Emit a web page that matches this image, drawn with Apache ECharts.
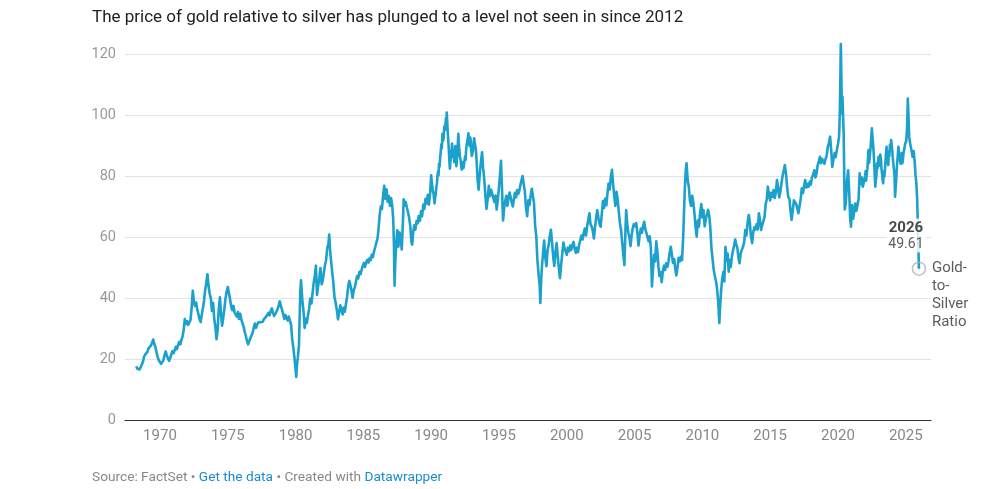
<!DOCTYPE html>
<html>
<head>
<meta charset="utf-8">
<script src="https://cdn.jsdelivr.net/npm/echarts@6/dist/echarts.min.js"></script>
<style>
html,body{margin:0;padding:0;background:#fff;}
#chart{width:992px;height:489px;}
</style>
</head>
<body>
<div id="chart"></div>
<script>
// ---- data (decimal year, gold-to-silver ratio) ----
const ratio1960s = [[1968.25,17.6],[1968.33,16.8],[1968.42,16.3],[1968.5,16.6],[1968.58,17.4],[1968.67,18.3],[1968.75,19.2],[1968.83,20.8],[1968.92,21.5],
[1969.0,20.9],[1969.08,22.4],[1969.17,23.6],[1969.25,23.0],[1969.33,24.4],[1969.42,25.3],[1969.5,26.4],[1969.58,24.9],[1969.67,23.8],[1969.75,22.1],[1969.83,20.6],[1969.92,19.5]];

const ratio1970s = [[1970.0,18.9],[1970.08,18.4],[1970.17,18.7],[1970.25,19.6],[1970.33,21.1],[1970.42,22.5],[1970.5,21.3],[1970.58,20.2],[1970.67,19.4],[1970.75,20.3],[1970.83,21.4],[1970.92,22.6],
[1971.0,21.9],[1971.08,22.8],[1971.17,24.0],[1971.25,23.2],[1971.33,24.5],[1971.42,25.6],[1971.5,24.8],[1971.58,26.2],[1971.67,27.5],[1971.75,29.6],[1971.83,33.1],[1971.92,31.6],
[1972.0,32.4],[1972.08,31.2],[1972.17,30.6],[1972.25,32.8],[1972.33,36.5],[1972.42,42.4],[1972.5,38.9],[1972.58,37.4],[1972.67,38.5],[1972.75,36.2],[1972.83,34.8],[1972.92,33.0],
[1973.0,32.1],[1973.08,34.5],[1973.17,36.8],[1973.25,39.2],[1973.33,42.5],[1973.42,45.1],[1973.5,47.8],[1973.58,44.0],[1973.67,41.3],[1973.75,39.9],[1973.83,35.8],[1973.92,38.4],
[1974.0,33.2],[1974.08,30.8],[1974.17,26.5],[1974.25,29.4],[1974.33,35.9],[1974.42,40.2],[1974.5,34.8],[1974.58,30.9],[1974.67,33.7],[1974.75,36.5],[1974.83,39.8],[1974.92,42.2],
[1975.0,43.6],[1975.08,41.8],[1975.17,39.5],[1975.25,37.2],[1975.33,36.0],[1975.42,37.4],[1975.5,35.3],[1975.58,34.6],[1975.67,33.9],[1975.75,35.4],[1975.83,33.1],[1975.92,34.8],
[1976.0,32.9],[1976.08,31.8],[1976.17,30.5],[1976.25,28.9],[1976.33,27.6],[1976.42,25.8],[1976.5,24.8],[1976.58,25.3],[1976.67,26.9],[1976.75,27.4],[1976.83,28.6],[1976.92,30.4],
[1977.0,31.6],[1977.08,30.2],[1977.17,31.3],[1977.25,32.0],[1977.33,31.4],[1977.42,32.1],[1977.5,32.6],[1977.58,32.2],[1977.67,33.1],[1977.75,33.4],[1977.83,33.9],[1977.92,34.4],
[1978.0,35.1],[1978.08,34.3],[1978.17,35.8],[1978.25,36.6],[1978.33,35.2],[1978.42,34.1],[1978.5,34.6],[1978.58,35.4],[1978.67,36.4],[1978.75,37.4],[1978.83,38.9],[1978.92,37.3],
[1979.0,36.2],[1979.08,34.9],[1979.17,33.1],[1979.25,34.4],[1979.33,33.5],[1979.42,32.6],[1979.5,33.9],[1979.58,34.1],[1979.67,31.2],[1979.75,26.5],[1979.83,23.8],[1979.92,20.4]];

const ratio1980s = [[1980.0,16.5],[1980.05,14.1],[1980.1,18.0],[1980.17,20.6],[1980.25,24.5],[1980.3,33.8],[1980.35,42.3],[1980.4,45.8],[1980.5,39.2],[1980.58,35.9],[1980.67,30.2],[1980.75,33.2],[1980.83,31.8],[1980.92,34.5],
[1981.0,36.5],[1981.08,39.8],[1981.17,38.2],[1981.25,41.5],[1981.33,44.8],[1981.42,47.5],[1981.5,50.6],[1981.58,41.0],[1981.67,44.2],[1981.75,46.5],[1981.83,49.8],[1981.92,44.5],
[1982.0,45.6],[1982.08,48.2],[1982.17,50.8],[1982.25,52.4],[1982.33,56.2],[1982.42,57.8],[1982.48,60.8],[1982.55,55.4],[1982.62,52.0],[1982.7,48.6],[1982.78,45.2],[1982.87,40.2],[1982.95,38.6],
[1983.05,35.8],[1983.13,33.0],[1983.22,35.4],[1983.3,37.6],[1983.38,36.2],[1983.47,34.6],[1983.55,36.9],[1983.63,35.5],[1983.72,38.2],[1983.8,40.5],[1983.88,43.8],[1983.96,45.6],
[1984.04,44.2],[1984.12,42.5],[1984.2,40.1],[1984.29,42.6],[1984.37,43.5],[1984.46,45.6],[1984.54,47.2],[1984.62,46.4],[1984.71,48.6],[1984.79,47.8],[1984.88,49.4],[1984.96,50.6],
[1985.04,51.5],[1985.12,50.2],[1985.21,51.8],[1985.29,52.5],[1985.37,51.6],[1985.46,53.1],[1985.54,52.4],[1985.62,54.2],[1985.71,53.5],[1985.79,55.4],[1985.88,56.8],[1985.96,58.2],
[1986.04,59.4],[1986.12,62.8],[1986.21,67.5],[1986.29,70.1],[1986.37,69.2],[1986.46,73.8],[1986.54,76.8],[1986.62,72.5],[1986.71,75.6],[1986.79,71.6],[1986.88,73.4],[1986.96,70.2],
[1987.04,72.8],[1987.12,70.5],[1987.2,66.0],[1987.25,58.2],[1987.3,44.0],[1987.35,51.5],[1987.42,57.6],[1987.5,62.2],[1987.58,56.8],[1987.67,61.5],[1987.75,59.4],[1987.83,55.9],[1987.92,65.5],[1987.97,72.4],
[1988.04,70.3],[1988.12,71.5],[1988.21,69.6],[1988.29,68.2],[1988.37,66.4],[1988.46,63.5],[1988.54,58.4],[1988.6,57.5],[1988.67,61.5],[1988.75,63.8],[1988.83,62.4],[1988.92,65.2],
[1989.0,64.5],[1989.08,66.9],[1989.17,65.3],[1989.25,68.4],[1989.33,66.8],[1989.42,70.6],[1989.5,69.2],[1989.58,72.5],[1989.67,71.0],[1989.75,73.8],[1989.83,70.6],[1989.92,74.2]];

const ratio1990s = [[1990.0,80.2],[1990.04,78.1],[1990.08,77.6],[1990.12,75.2],[1990.17,74.4],[1990.21,72.6],[1990.25,71.0],[1990.29,72.9],[1990.33,73.8],[1990.38,76.2],[1990.42,77.5],[1990.46,79.8],[1990.5,81.4],[1990.54,80.2],[1990.58,84.0],[1990.62,83.1],[1990.67,86.5],[1990.71,88.2],[1990.75,90.4],[1990.79,89.1],[1990.83,93.8],[1990.88,91.6],[1990.92,92.4],[1990.96,95.8],
[1991.0,96.5],[1991.04,95.2],[1991.08,98.8],[1991.12,97.6],[1991.15,100.8],[1991.19,97.0],[1991.22,94.5],[1991.26,91.8],[1991.3,88.6],[1991.34,85.2],[1991.38,82.4],[1991.42,84.8],[1991.46,86.5],[1991.5,88.2],[1991.54,90.6],[1991.58,88.0],[1991.62,86.2],[1991.66,87.8],[1991.7,84.5],[1991.74,86.9],[1991.78,89.8],[1991.82,86.4],[1991.86,83.2],[1991.9,85.6],[1991.94,87.5],[1991.97,91.2],
[1992.0,93.8],[1992.04,90.6],[1992.08,88.4],[1992.12,86.5],[1992.17,85.2],[1992.21,83.4],[1992.25,82.1],[1992.29,83.9],[1992.33,84.6],[1992.38,82.6],[1992.42,83.2],[1992.46,85.1],[1992.5,86.4],[1992.54,85.3],[1992.58,88.9],[1992.62,90.4],[1992.67,91.6],[1992.71,92.8],[1992.75,94.0],[1992.79,91.4],[1992.83,89.8],[1992.88,92.6],[1992.92,91.5],[1992.96,88.4],
[1993.0,86.6],[1993.04,87.5],[1993.08,88.2],[1993.12,90.1],[1993.17,92.4],[1993.21,91.0],[1993.25,90.6],[1993.29,88.9],[1993.33,86.5],[1993.38,82.4],[1993.42,78.8],[1993.46,77.2],[1993.5,75.5],[1993.54,78.2],[1993.58,80.4],[1993.62,82.6],[1993.67,84.6],[1993.71,86.2],[1993.75,87.8],[1993.79,85.4],[1993.83,82.5],[1993.88,80.6],[1993.92,78.4],[1993.96,75.9],
[1994.0,73.5],[1994.08,69.2],[1994.17,72.6],[1994.25,76.8],[1994.33,73.4],[1994.42,75.5],[1994.5,74.2],[1994.58,72.8],[1994.67,71.4],[1994.75,73.6],[1994.83,69.0],[1994.92,72.5],
[1995.0,76.4],[1995.08,80.6],[1995.15,85.0],[1995.22,76.2],[1995.3,65.4],[1995.38,69.5],[1995.46,71.8],[1995.54,73.5],[1995.62,70.2],[1995.7,72.8],[1995.78,74.6],[1995.86,73.1],[1995.94,71.2],
[1996.02,70.0],[1996.1,72.4],[1996.18,74.5],[1996.26,73.0],[1996.34,75.4],[1996.42,74.1],[1996.5,75.2],[1996.58,77.0],[1996.66,78.6],[1996.74,80.0],[1996.82,77.5],[1996.9,75.2],
[1997.0,69.4],[1997.08,66.8],[1997.17,72.0],[1997.25,70.5],[1997.33,73.4],[1997.42,75.8],[1997.5,76.4],[1997.58,71.2],[1997.67,63.5],[1997.75,60.4],[1997.83,52.6],[1997.92,47.8],
[1998.0,44.2],[1998.05,38.4],[1998.1,44.8],[1998.17,50.5],[1998.25,54.6],[1998.33,58.8],[1998.42,53.2],[1998.5,50.4],[1998.58,55.6],[1998.67,57.5],[1998.75,60.4],[1998.83,62.4],[1998.92,57.8],
[1999.0,53.4],[1999.08,50.5],[1999.17,55.2],[1999.25,58.0],[1999.33,53.8],[1999.42,49.5],[1999.5,46.5],[1999.58,50.8],[1999.67,54.6],[1999.75,58.2],[1999.83,56.4],[1999.92,55.2]];

const ratio2000s = [[2000.0,54.2],[2000.08,56.5],[2000.17,55.3],[2000.25,57.2],[2000.33,55.8],[2000.42,57.5],[2000.5,58.4],[2000.58,56.2],[2000.67,54.8],[2000.75,56.5],[2000.83,55.1],[2000.92,57.6],
[2001.0,58.2],[2001.08,60.5],[2001.17,59.2],[2001.25,61.4],[2001.33,62.8],[2001.42,60.5],[2001.5,63.5],[2001.58,65.6],[2001.67,67.8],[2001.75,64.2],[2001.83,63.5],[2001.92,62.0],
[2002.0,59.5],[2002.08,63.2],[2002.17,66.5],[2002.25,68.8],[2002.33,66.4],[2002.42,64.2],[2002.5,63.4],[2002.58,67.5],[2002.67,71.8],[2002.75,69.5],[2002.83,72.6],[2002.92,70.4],
[2003.0,74.2],[2003.08,77.5],[2003.17,75.6],[2003.25,79.8],[2003.33,82.0],[2003.42,77.2],[2003.5,73.6],[2003.58,70.2],[2003.67,74.8],[2003.75,72.4],[2003.83,68.5],[2003.92,64.6],
[2004.0,62.4],[2004.08,58.6],[2004.17,54.2],[2004.25,50.8],[2004.33,62.5],[2004.38,68.8],[2004.46,64.2],[2004.54,61.5],[2004.62,59.8],[2004.7,57.0],[2004.78,60.4],[2004.86,62.8],[2004.94,64.2],
[2005.04,63.5],[2005.12,64.6],[2005.21,61.2],[2005.29,57.2],[2005.37,60.5],[2005.46,62.8],[2005.54,61.4],[2005.62,63.4],[2005.71,65.0],[2005.79,62.6],[2005.88,61.2],[2005.96,59.8],
[2006.04,58.6],[2006.12,60.2],[2006.2,56.4],[2006.28,43.8],[2006.36,49.5],[2006.44,54.2],[2006.52,52.0],[2006.6,58.6],[2006.68,55.4],[2006.76,50.2],[2006.84,47.2],[2006.92,48.5],
[2007.0,45.2],[2007.08,48.6],[2007.17,50.6],[2007.25,49.2],[2007.33,51.4],[2007.42,50.2],[2007.5,52.0],[2007.58,54.6],[2007.67,56.8],[2007.75,54.2],[2007.83,51.5],[2007.92,52.8],
[2008.0,49.6],[2008.08,47.4],[2008.17,50.2],[2008.25,53.2],[2008.33,52.0],[2008.42,53.6],[2008.5,52.4],[2008.58,59.5],[2008.63,66.2],[2008.7,75.4],[2008.77,81.6],[2008.83,84.2],[2008.92,78.5],
[2009.0,76.4],[2009.08,72.0],[2009.17,70.2],[2009.25,73.5],[2009.33,71.4],[2009.42,67.5],[2009.5,63.2],[2009.58,60.1],[2009.67,65.5],[2009.75,63.4],[2009.83,67.8],[2009.92,70.8]];

const ratio2010s = [[2010.0,66.4],[2010.08,68.8],[2010.17,63.5],[2010.25,65.8],[2010.33,66.4],[2010.42,68.9],[2010.5,67.2],[2010.58,63.4],[2010.67,56.2],[2010.75,52.8],[2010.83,49.4],[2010.92,47.2],
[2011.0,45.6],[2011.08,43.2],[2011.17,38.6],[2011.25,31.8],[2011.3,36.5],[2011.38,42.4],[2011.46,46.2],[2011.54,48.5],[2011.62,45.4],[2011.7,56.8],[2011.78,52.2],[2011.86,54.6],[2011.94,48.6],
[2012.02,52.5],[2012.1,50.2],[2012.18,53.8],[2012.26,55.6],[2012.34,57.2],[2012.42,59.2],[2012.5,57.5],[2012.58,56.4],[2012.66,53.2],[2012.74,51.4],[2012.82,54.5],[2012.9,55.7],
[2013.0,56.8],[2013.08,58.4],[2013.17,62.3],[2013.25,60.5],[2013.33,64.5],[2013.42,67.2],[2013.5,64.8],[2013.58,60.2],[2013.67,58.0],[2013.75,61.5],[2013.83,63.2],[2013.92,62.5],
[2014.0,64.2],[2014.08,62.5],[2014.17,67.8],[2014.25,65.4],[2014.33,62.3],[2014.42,64.0],[2014.5,63.5],[2014.58,66.5],[2014.67,70.8],[2014.75,72.4],[2014.83,76.5],[2014.92,73.5],
[2015.0,72.0],[2015.08,74.5],[2015.17,73.2],[2015.25,75.4],[2015.33,72.8],[2015.42,74.6],[2015.5,78.7],[2015.58,76.4],[2015.67,73.0],[2015.75,74.8],[2015.83,77.5],[2015.92,80.2],
[2016.0,81.6],[2016.08,83.6],[2016.17,80.5],[2016.25,76.5],[2016.33,73.2],[2016.42,72.4],[2016.5,68.6],[2016.58,65.6],[2016.67,68.8],[2016.75,72.0],[2016.83,71.4],[2016.92,70.8],
[2017.0,69.4],[2017.08,67.8],[2017.17,70.2],[2017.25,72.5],[2017.33,76.0],[2017.42,74.4],[2017.5,76.8],[2017.58,78.7],[2017.67,76.2],[2017.75,77.4],[2017.83,76.5],[2017.92,78.2],
[2018.0,77.2],[2018.08,79.6],[2018.17,80.4],[2018.25,81.9],[2018.33,79.5],[2018.42,80.8],[2018.5,83.5],[2018.58,84.6],[2018.67,86.3],[2018.75,84.2],[2018.83,85.6],[2018.92,84.8],
[2019.0,84.0],[2019.08,85.5],[2019.17,86.8],[2019.25,89.5],[2019.33,90.8],[2019.42,92.9],[2019.5,88.4],[2019.58,83.0],[2019.67,85.6],[2019.75,87.5],[2019.83,86.2],[2019.92,88.6]];

const ratio2020s = [[2020.0,90.5],[2020.08,92.9],[2020.13,99.5],[2020.17,110.0],[2020.21,123.3],[2020.25,112.5],[2020.29,100.5],[2020.33,106.0],[2020.38,99.0],[2020.42,94.0],[2020.46,80.5],[2020.5,69.0],[2020.58,71.2],[2020.67,78.5],[2020.75,81.9],[2020.83,74.5],[2020.9,66.2],[2020.96,63.4],
[2021.04,70.5],[2021.12,66.0],[2021.2,68.4],[2021.28,71.0],[2021.36,68.6],[2021.44,70.4],[2021.52,72.5],[2021.6,80.9],[2021.67,77.4],[2021.75,79.5],[2021.83,76.5],[2021.92,78.2],
[2022.0,80.2],[2022.04,81.6],[2022.08,78.5],[2022.12,80.6],[2022.17,82.4],[2022.21,85.8],[2022.25,88.5],[2022.29,84.2],[2022.33,85.6],[2022.38,88.1],[2022.42,90.4],[2022.46,92.8],[2022.5,95.6],[2022.54,93.0],[2022.58,91.2],[2022.62,88.4],[2022.67,84.5],[2022.71,80.2],[2022.75,76.5],[2022.79,78.4],[2022.83,79.8],[2022.88,84.1],[2022.92,82.6],[2022.96,84.9],
[2023.0,86.3],[2023.04,84.8],[2023.08,83.4],[2023.12,87.0],[2023.17,85.5],[2023.21,82.2],[2023.25,80.8],[2023.29,78.9],[2023.33,77.6],[2023.38,81.5],[2023.42,79.8],[2023.46,82.0],[2023.5,84.2],[2023.54,87.4],[2023.58,89.6],[2023.62,87.2],[2023.67,85.4],[2023.71,83.6],[2023.75,88.0],[2023.79,86.5],[2023.83,90.2],[2023.88,88.8],[2023.92,91.8],[2023.96,90.1],
[2024.0,88.5],[2024.04,86.0],[2024.08,84.2],[2024.12,82.5],[2024.17,80.0],[2024.21,73.2],[2024.25,76.0],[2024.29,78.5],[2024.33,81.8],[2024.37,84.6],[2024.42,87.2],[2024.46,89.6],[2024.5,87.8],[2024.54,86.2],[2024.58,85.0],[2024.62,84.0],[2024.67,86.6],[2024.71,87.5],[2024.75,84.2],[2024.79,85.4],[2024.83,87.4],[2024.88,88.6],[2024.92,89.2],[2024.96,90.7],
[2025.04,91.5],[2025.1,96.5],[2025.15,105.4],[2025.2,99.6],[2025.25,92.9],[2025.33,90.5],[2025.42,88.4],[2025.5,86.3],[2025.58,88.2],[2025.66,84.5],[2025.72,80.2],[2025.78,77.6],[2025.84,72.5],[2025.88,65.6],[2025.93,56.5],[2025.97,49.61]];

const xTickLabels = [1970,1975,1980,1985,1990,1995,2000,2005,2010,2015,2020,2025];
const yTicks = {min:0, max:120, step:20};
const seriesName = 'Gold-to-Silver Ratio';
const endYearLabel = '2026';
const titleText = 'The price of gold relative to silver has plunged to a level not seen in since 2012';

// ---- chart ----
const allData = [].concat(ratio1960s, ratio1970s, ratio1980s, ratio1990s, ratio2000s, ratio2010s, ratio2020s);
const lastPoint = allData[allData.length - 1];
const FONT = 'Roboto, "Noto Sans", sans-serif';
const LINE = '#1ca0cc';

const chart = echarts.init(document.getElementById('chart'), null, {renderer:'canvas'});
chart.setOption({
  animation: false,
  backgroundColor: '#fff',
  textStyle: {fontFamily: FONT},
  title: {
    text: titleText, left: 87, top: 4,
    textStyle: {fontFamily: FONT, fontSize: 17, fontWeight: 'normal', color: '#222'}
  },
  grid: {left: 125, right: 61, top: 54, bottom: 69, containLabel: false},
  xAxis: {
    type: 'value', min: 1967.42, max: 2026.86,
    axisLine: {show: true, lineStyle: {color: '#333', width: 1}},
    axisTick: {show: false},
    splitLine: {show: false},
    axisLabel: {customValues: xTickLabels, color: '#888', fontSize: 15, margin: 9, fontFamily: FONT,
      formatter: v => String(v)}
  },
  yAxis: {
    type: 'value', min: yTicks.min, max: yTicks.max, interval: yTicks.step,
    axisLine: {show: false}, axisTick: {show: false},
    splitLine: {lineStyle: {color: '#e3e3e3', width: 1}},
    axisLabel: {color: '#999', fontSize: 14.5, margin: 9, fontFamily: FONT}
  },
  series: [
    {
      name: seriesName, type: 'line', data: allData, showSymbol: false, clip: false,
      lineStyle: {color: LINE, width: 2.6, join: 'round'}, itemStyle: {color: LINE}, z: 3
    },
    {
      type: 'scatter', data: [lastPoint], symbol: 'circle', symbolSize: 13, clip: false, z: 4,
      itemStyle: {color: 'rgba(255,255,255,0)', borderColor: '#b0b0b0', borderWidth: 1.5},
      label: {
        show: true, position: 'top', distance: 9, offset: [-13, 0], align: 'center',
        backgroundColor: '#fff', padding: [1, 2, 0, 2],
        formatter: p => '{y|' + endYearLabel + '}\n{v|' + p.value[1].toFixed(2) + '}',
        rich: {
          y: {fontFamily: FONT, fontSize: 15, fontWeight: 'bold', color: '#1a1a1a', lineHeight: 17, align: 'center'},
          v: {fontFamily: FONT, fontSize: 14, color: '#333', lineHeight: 16, align: 'center'}
        }
      }
    },
    {
      type: 'scatter', data: [lastPoint], symbolSize: 13, symbol: 'circle', clip: false, z: 4,
      itemStyle: {color: 'rgba(0,0,0,0)'},
      label: {
        show: true, position: [19.5, -3], align: 'left', verticalAlign: 'top',
        formatter: () => seriesName.replace(/-/g, '-\n').replace(' ', '\n'),
        fontFamily: FONT, fontSize: 15, color: '#333', lineHeight: 18
      }
    }
  ],
  graphic: [{
    type: 'text', left: 92, top: 471,
    style: {
      text: '{g|Source: FactSet • }{b|Get the data}{g| • Created with }{b|Datawrapper}',
      rich: {
        g: {fontFamily: FONT, fontSize: 13.7, fill: '#888'},
        b: {fontFamily: FONT, fontSize: 13.7, fill: '#1b8ccd'}
      }
    }
  }]
});
</script>
</body>
</html>
